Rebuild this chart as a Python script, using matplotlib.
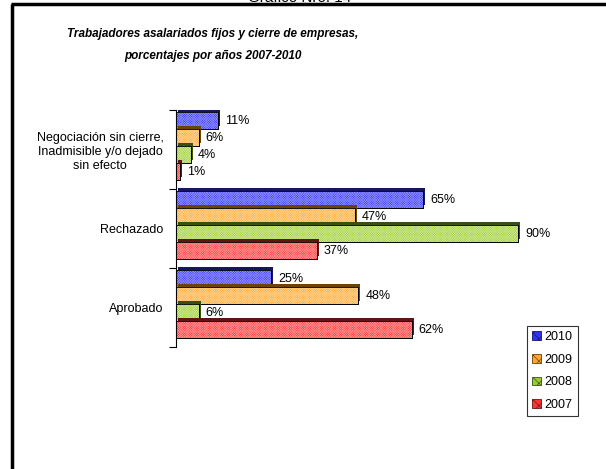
import numpy as np
import matplotlib
matplotlib.use('Agg')
import matplotlib.pyplot as plt
import matplotlib.patheffects as pe
from matplotlib.lines import Line2D

plt.rcParams['font.family'] = ['Liberation Sans', 'DejaVu Sans']
plt.rcParams['hatch.linewidth'] = 0.45

# data (bottom to top on the axis)
categories = ['Aprobado', 'Rechazado',
              'Negociación sin cierre,\nInadmisible y/o dejado\nsin efecto']
years = ['2010', '2009', '2008', '2007']
values = {
    '2010': [25, 65, 11],
    '2009': [48, 47, 6],
    '2008': [6, 90, 4],
    '2007': [62, 37, 1],
}
face = {'2010': '#3333ff', '2009': '#ffa533', '2008': '#99cc33', '2007': '#ff3333'}
light = {'2010': '#8c8cff', '2009': '#ffd28c', '2008': '#cce68c', '2007': '#ff9090'}
dark = {'2010': '#151560', '2009': '#6a4400', '2008': '#3a5010', '2007': '#601515'}

fig = plt.figure(figsize=(6.06, 4.69), dpi=100)
ax = fig.add_axes([176 / 606, 1 - 347 / 469, 380 / 606, 237 / 469])

ypos = np.arange(len(categories))
h = 0.215
for i, yr in enumerate(years):
    yy = ypos + 0.05 + (1.5 - i) * h
    bars = ax.barh(yy, values[yr], height=h, color=face[yr], edgecolor='black',
                   linewidth=0.6, label=yr)
    for b in bars:
        b.set_path_effects([pe.SimplePatchShadow(offset=(1.5, 1.5), shadow_rgbFace=dark[yr], alpha=1),
                            pe.Normal()])
    ax.barh(yy, values[yr], height=h, facecolor='none', edgecolor=light[yr],
            hatch='x' * 14, linewidth=0)
    ax.barh(yy, values[yr], height=h, facecolor='none', edgecolor='black', linewidth=0.6)
    for y, v in zip(yy, values[yr]):
        ax.annotate(f'{v}%', (v, y), xytext=(5, -1), textcoords='offset points',
                    ha='left', va='center', fontsize=9)

ax.set_xlim(0, 100)
ax.set_ylim(-0.5, 2.5)
for s in ['top', 'right', 'bottom']:
    ax.spines[s].set_visible(False)
ax.spines['left'].set_linewidth(0.8)
ax.set_xticks([])
ax.set_yticks([-0.5, 0.5, 1.5, 2.5])
ax.set_yticklabels([])
ax.tick_params(axis='y', which='major', length=5, width=0.8)
ax.set_yticks(ypos, minor=True)
ax.set_yticklabels(categories, minor=True, fontsize=9, multialignment='center')
ax.tick_params(axis='y', which='minor', length=0, pad=9)

handles = [plt.Rectangle((0, 0), 1, 1, facecolor=face[y], edgecolor=dark[y],
                         hatch='xxx', linewidth=0.6) for y in years]
leg = ax.legend(handles, years, loc='upper left', bbox_to_anchor=(527 / 606, 1 - 326 / 469),
                bbox_transform=fig.transFigure, fontsize=9, frameon=True, fancybox=False,
                edgecolor='black', handlelength=0.7, handleheight=0.7, handletextpad=0.3,
                labelspacing=0.85, borderpad=0.4, borderaxespad=0)
leg.get_frame().set_linewidth(0.8)

fig.text(213 / 606, 1 - 34 / 469, 'Trabajadores asalariados fijos y cierre de empresas,',
         ha='center', va='center', fontsize=8.5, fontweight='bold', style='italic')
fig.text(213 / 606, 1 - 56 / 469, 'porcentajes por años 2007-2010',
         ha='center', va='center', fontsize=8.5, fontweight='bold', style='italic')
fig.text(300 / 606, 1 - 2 / 469, 'Gráfico Nro. 14', ha='center', va='baseline', fontsize=11)

# outer frame (left and top edges visible)
fig.add_artist(Line2D([12 / 606, 12 / 606], [0, 1 - 4 / 469], color='black', linewidth=2.5,
                      transform=fig.transFigure, solid_capstyle='butt'))
fig.add_artist(Line2D([11 / 606, 1], [1 - 4 / 469, 1 - 4 / 469], color='black', linewidth=2.5,
                      transform=fig.transFigure, solid_capstyle='butt'))

fig.savefig('out.png', dpi=100)
